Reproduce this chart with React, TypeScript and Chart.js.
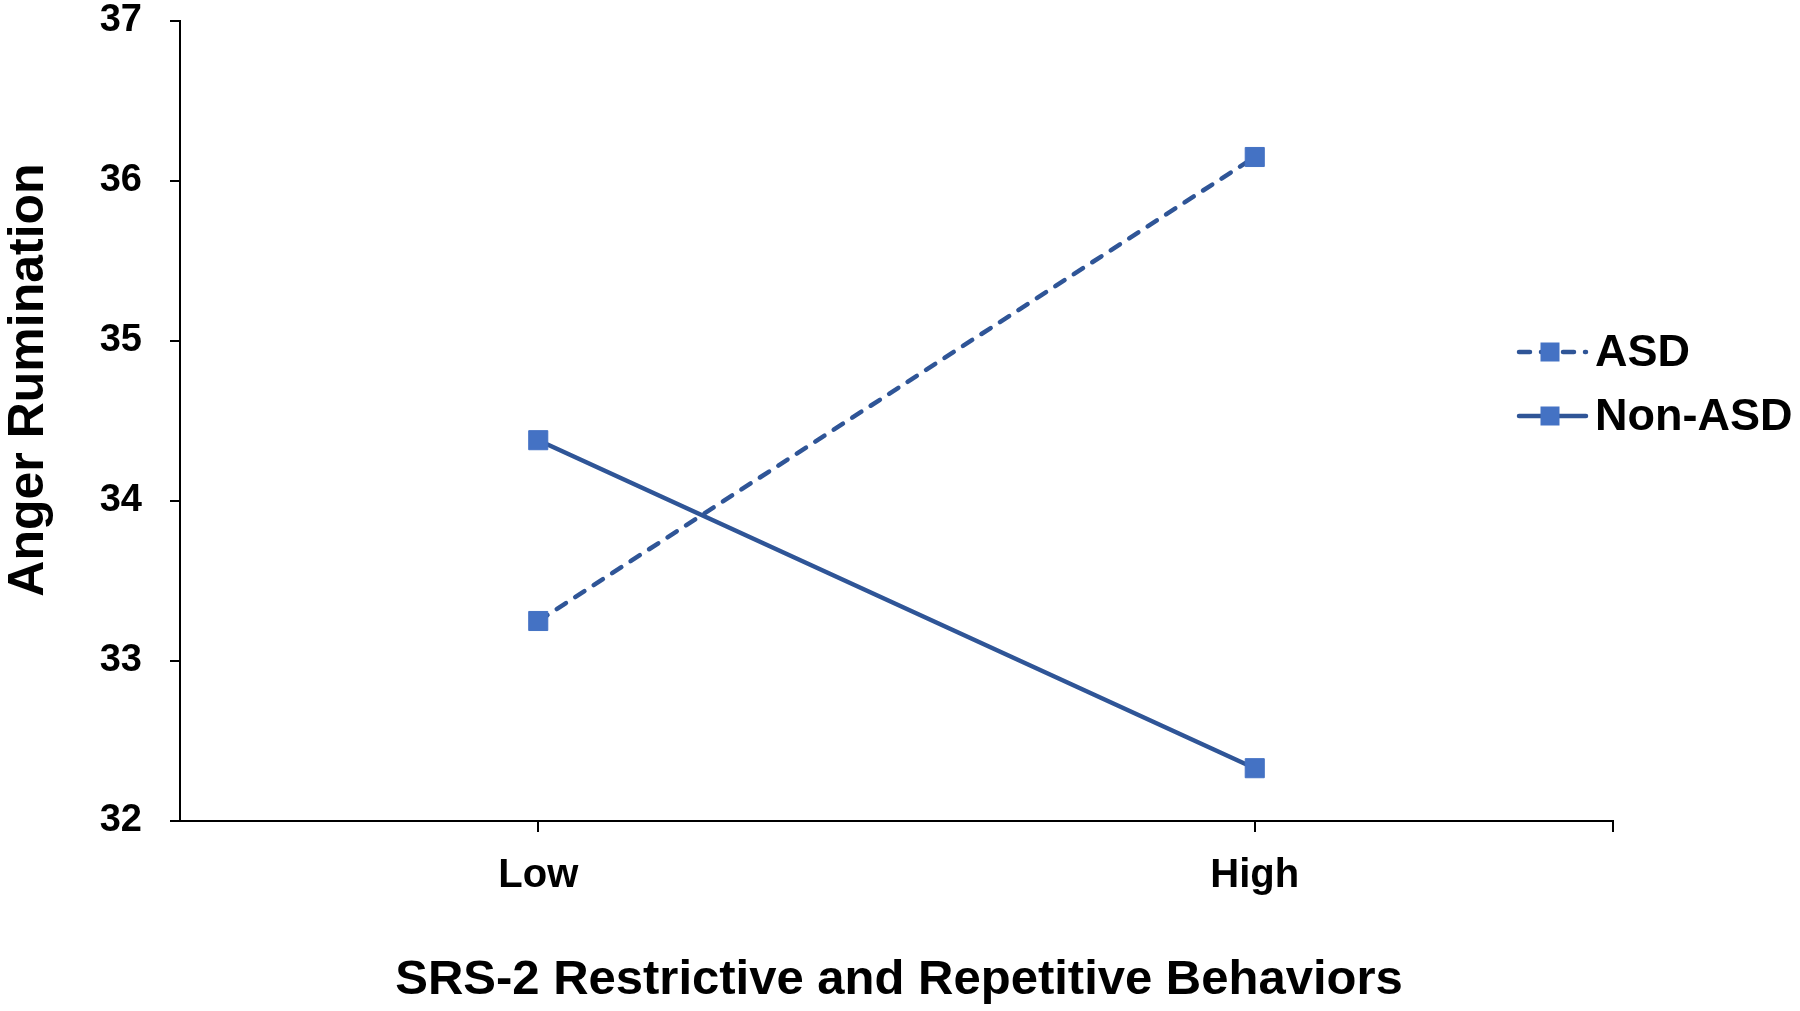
import React, { useEffect, useRef } from 'react';
import { Chart, registerables } from 'chart.js';

Chart.register(...registerables);

const categories = ['Low', 'High'];
const asdValues = [33.25, 36.15];
const nonAsdValues = [34.38, 32.33];
const yTicks = [32, 33, 34, 35, 36, 37];
const seriesNames = ['ASD', 'Non-ASD'];
const xTitle = 'SRS-2 Restrictive and Repetitive Behaviors';
const yTitle = 'Anger Rumination';

const FONT = '"Liberation Sans", Arial, Helvetica, sans-serif';
const LINE = '#2F5597';
const MARK = '#4472C4';

const extras = {
  id: 'extras',
  afterDraw(chart: any) {
    const ctx = chart.ctx as CanvasRenderingContext2D;
    const { right, bottom } = chart.chartArea;
    ctx.save();
    // right-end tick on x axis
    ctx.strokeStyle = '#000';
    ctx.lineWidth = 2;
    ctx.beginPath();
    ctx.moveTo(right, bottom);
    ctx.lineTo(right, bottom + 11);
    ctx.stroke();

    // axis titles
    ctx.fillStyle = '#000';
    ctx.textAlign = 'center';
    ctx.textBaseline = 'alphabetic';
    ctx.font = `bold 49px ${FONT}`;
    ctx.fillText(xTitle, 899, 994);

    ctx.save();
    ctx.translate(43, 380);
    ctx.rotate(-Math.PI / 2);
    ctx.font = `bold 50px ${FONT}`;
    ctx.fillText(yTitle, 0, 0);
    ctx.restore();

    // legend
    chart.data.datasets.forEach((ds: any, i: number) => {
      const y = 352 + 64 * i;
      const x0 = 1519;
      const x1 = 1586;
      ctx.save();
      ctx.strokeStyle = ds.borderColor;
      ctx.lineWidth = ds.borderWidth;
      ctx.lineCap = 'round';
      ctx.setLineDash(ds.borderDash || []);
      ctx.beginPath();
      ctx.moveTo(x0, y);
      ctx.lineTo(x1, y);
      ctx.stroke();
      ctx.restore();
      const side = 19;
      ctx.fillStyle = MARK;
      ctx.fillRect(1550 - side / 2, y - side / 2, side, side);
      ctx.fillStyle = '#000';
      ctx.textAlign = 'left';
      ctx.textBaseline = 'middle';
      ctx.font = `bold 45px ${FONT}`;
      ctx.fillText(ds.label, 1595, y + 2);
    });
    ctx.restore();
  },
};

export default function App() {
  const ref = useRef<HTMLCanvasElement | null>(null);

  useEffect(() => {
    if (!ref.current) return;
    const chart = new Chart(ref.current, {
      type: 'line',
      data: {
        labels: categories,
        datasets: [
          {
            label: seriesNames[0],
            data: asdValues,
            borderColor: LINE,
            borderWidth: 4.5,
            borderDash: [11, 11],
            borderCapStyle: 'round',
            pointStyle: 'rect',
            pointRadius: 13.5,
            pointBackgroundColor: MARK,
            pointBorderColor: MARK,
            pointBorderWidth: 1,
            fill: false,
            tension: 0,
          },
          {
            label: seriesNames[1],
            data: nonAsdValues,
            borderColor: LINE,
            borderWidth: 4.5,
            borderCapStyle: 'round',
            pointStyle: 'rect',
            pointRadius: 13.5,
            pointBackgroundColor: MARK,
            pointBorderColor: MARK,
            pointBorderWidth: 1,
            fill: false,
            tension: 0,
          },
        ],
      },
      options: {
        responsive: false,
        animation: false,
        devicePixelRatio: 1,
        layout: { padding: { top: 21, right: 187, left: 0, bottom: 0 } },
        plugins: {
          legend: { display: false },
          tooltip: { enabled: false },
        },
        scales: {
          x: {
            type: 'category',
            offset: true,
            grid: {
              drawOnChartArea: false,
              drawTicks: true,
              tickLength: 11,
              color: '#000',
              lineWidth: 2,
            },
            border: { display: true, color: '#000', width: 2 },
            ticks: {
              color: '#000',
              padding: 20,
              font: { family: FONT, size: 40, weight: 'bold' },
            },
            afterFit: (s: any) => {
              s.height = 190;
              s.paddingLeft = 0;
              s.paddingRight = 0;
            },
          },
          y: {
            type: 'linear',
            min: 32,
            max: 37,
            afterBuildTicks: (s: any) => {
              s.ticks = yTicks.map((v) => ({ value: v }));
            },
            grid: {
              drawOnChartArea: false,
              drawTicks: true,
              tickLength: 10,
              color: '#000',
              lineWidth: 2,
            },
            border: { display: true, color: '#000', width: 2 },
            ticks: {
              color: '#000',
              padding: 28,
              font: { family: FONT, size: 38, weight: 'bold' },
            },
            afterFit: (s: any) => {
              s.width = 180;
              s.paddingTop = 0;
              s.paddingBottom = 0;
            },
          },
        },
      } as any,
      plugins: [extras],
    });
    return () => chart.destroy();
  }, []);

  return (
    <div style={{ position: 'absolute', left: 0, top: 0, width: 1800, height: 1011, background: '#fff' }}>
      <canvas ref={ref} width={1800} height={1011} />
    </div>
  );
}
